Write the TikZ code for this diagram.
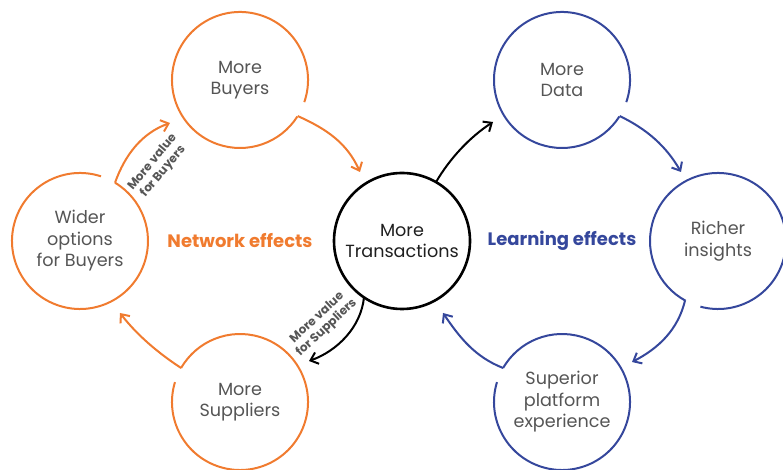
\documentclass[tikz,border=0pt]{standalone}
\usepackage{fontspec}
\setmainfont{Poppins}
\usetikzlibrary{arrows.meta}
\definecolor{org}{HTML}{F07B2F}
\definecolor{blu}{HTML}{35479C}
\definecolor{txt}{HTML}{555555}
\begin{document}
\begin{tikzpicture}[x=1pt,y=1pt,
  bub/.style={circle, minimum size=136pt, inner sep=0pt, outer sep=0pt, align=center,
    font=\fontsize{17.6}{21.5}\selectfont, text=txt},
  oarc/.style={draw=org, line width=2pt},
  barc/.style={draw=blu, line width=2pt},
  barr/.style={line width=2pt, -{Straight Barb[length=7pt,width=12pt]}},
  small/.style={font=\bfseries\fontsize{12}{14}\selectfont, text=txt, align=center},
  effect/.style={font=\bfseries\fontsize{18}{21}\selectfont}
]
\useasboundingbox (0,0) rectangle (783,470);
\clip (0,0) rectangle (783,470);
% nodes
\node[bub] (buy) at (240,390) {More\\Buyers};
\node[bub] (wide) at (80,229) {Wider\\options\\for Buyers};
\node[bub] (sup) at (240,68) {More\\Suppliers};
\node[bub, draw=black, line width=2.6pt, text=black!88] (trans) at (402,229) {More\\Transactions};
\node[bub] (data) at (562,390) {More\\Data};
\node[bub] (rich) at (718,229) {Richer\\insights};
\node[bub] (plat) at (562,68) {Superior\\platform\\experience};
% open circles
\draw[oarc] (buy.-19) arc[start angle=-19, end angle=327.5, radius=68pt];
\draw[oarc] (wide.72) arc[start angle=72, end angle=419, radius=68pt];
\draw[oarc] (sup.163) arc[start angle=163, end angle=510, radius=68pt];
\draw[barc] (data.-19) arc[start angle=-19, end angle=327.5, radius=68pt];
\draw[barc] (rich.255) arc[start angle=255, end angle=601.5, radius=68pt];
\draw[barc] (plat.163) arc[start angle=163, end angle=510, radius=68pt];
% arrow tips
\coordinate (t1) at (360,298);
\coordinate (t2) at (309,109);
\coordinate (t3) at (120,157);
\coordinate (t4) at (170,347);
\coordinate (t5) at (493,348);
\coordinate (t6) at (681,298);
\coordinate (t7) at (632,108);
\coordinate (t8) at (443,157);
% arrows
\draw[barr, org] (buy.-32.5) .. controls +(29,-13) and +(-13,29) .. (t1);
\draw[barr, black] (trans.-124) .. controls +(-3,-30) and +(28,10) .. (t2);
\draw[barr, org] (sup.150) .. controls +(-23,15) and +(17,-22) .. (t3);
\draw[barr, org] (wide.59) .. controls +(10,28) and +(-28,-10) .. (t4);
\draw[barr, black] (trans.60) .. controls +(14,24) and +(-23,-15) .. (t5);
\draw[barr, blu] (data.-32.5) .. controls +(27,-13) and +(-15,26) .. (t6);
\draw[barr, blu] (rich.241.5) .. controls +(-7,-29) and +(27,14) .. (t7);
\draw[barr, blu] (plat.150) .. controls +(-28,11) and +(17,-25) .. (t8);
% labels
\node[small, rotate=50] (lb) at (158,303) {More value\\for Buyers};
\node[small, rotate=43] (ls) at (322,147) {More value\\for Suppliers};
\node[effect, text=org] (ne) at (240,229) {Network effects};
\node[effect, text=blu] (le) at (562,229) {Learning effects};
\end{tikzpicture}
\end{document}
